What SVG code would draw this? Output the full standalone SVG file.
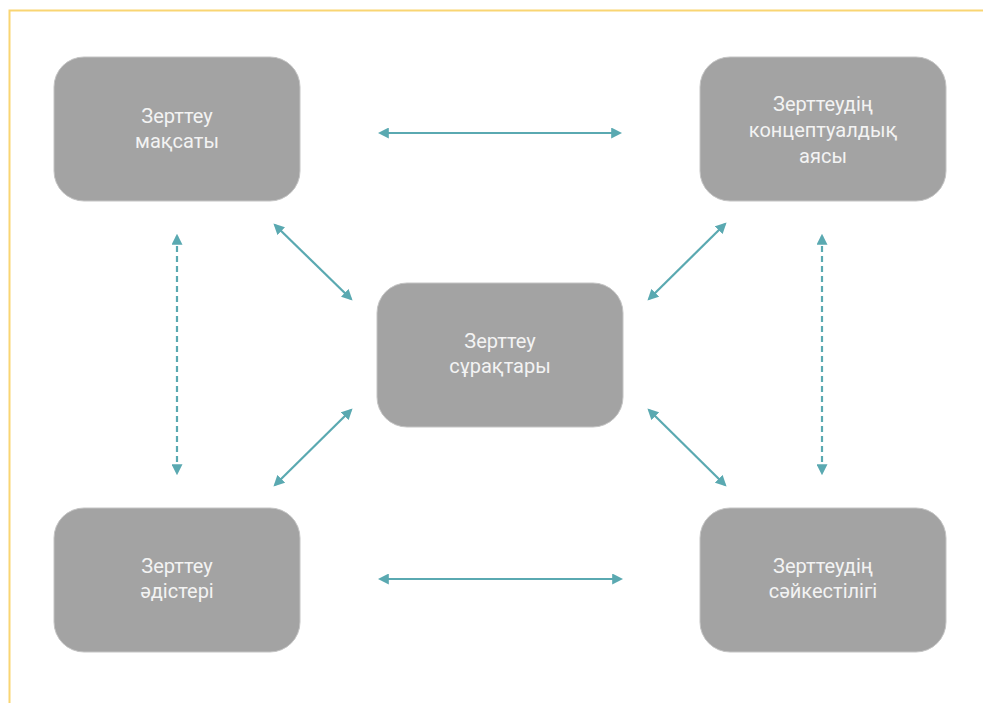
<svg xmlns="http://www.w3.org/2000/svg" width="983" height="703" viewBox="0 0 983 703">
  <style>
    .box { fill: #A3A3A3; stroke: #C4C4C4; stroke-width: 1; }
    .label { font-family: Roboto, "Liberation Sans", sans-serif; font-size: 20px; fill: #F3F3F3; text-anchor: middle; }
    .link { stroke: #5AA9B1; stroke-width: 2.2; fill: none; marker-start: url(#tip); marker-end: url(#tip); }
    .dash { stroke-dasharray: 6 4; }
  </style>
  <defs>
    <marker id="tip" viewBox="0 0 10 10" refX="8" refY="5" markerWidth="5" markerHeight="5" orient="auto-start-reverse" markerUnits="strokeWidth">
      <path d="M0,0 L10,5 L0,10 Z" fill="#5AA9B1"/>
    </marker>
  </defs>
  <rect width="983" height="703" fill="#FFFFFF"/>
  <!-- frame -->
  <path d="M9.5,703 V10.5 H983" fill="none" stroke="#F9D573" stroke-width="2"/>

  <g id="connectors">
    <line class="link" x1="380" y1="133" x2="620" y2="133"/>
    <line class="link" x1="380" y1="579" x2="621" y2="579"/>
    <line class="link dash" x1="177" y1="236" x2="177" y2="473"/>
    <line class="link dash" x1="822" y1="236" x2="822" y2="473"/>
    <line class="link" x1="275" y1="225" x2="351" y2="299"/>
    <line class="link" x1="725" y1="224" x2="649" y2="299"/>
    <line class="link" x1="351" y1="410" x2="275" y2="485"/>
    <line class="link" x1="649" y1="410" x2="725" y2="485"/>
  </g>

  <g id="goal">
    <rect class="box" x="54" y="57" width="246" height="144" rx="30"/>
    <text class="label" x="177" y="122.5">Зерттеу</text>
    <text class="label" x="177" y="147.5">мақсаты</text>
  </g>
  <g id="scope">
    <rect class="box" x="700" y="57" width="246" height="144" rx="30"/>
    <text class="label" x="823" y="111">Зерттеудің</text>
    <text class="label" x="823" y="137">концептуалдық</text>
    <text class="label" x="823" y="162.5">аясы</text>
  </g>
  <g id="questions">
    <rect class="box" x="377" y="283" width="246" height="144" rx="30"/>
    <text class="label" x="500" y="347.5">Зерттеу</text>
    <text class="label" x="500" y="372.5">сұрақтары</text>
  </g>
  <g id="methods">
    <rect class="box" x="54" y="508" width="246" height="144" rx="30"/>
    <text class="label" x="177" y="573">Зерттеу</text>
    <text class="label" x="177" y="598">әдістері</text>
  </g>
  <g id="relevance">
    <rect class="box" x="700" y="508" width="246" height="144" rx="30"/>
    <text class="label" x="823" y="572.5">Зерттеудің</text>
    <text class="label" x="823" y="597.5">сәйкестілігі</text>
  </g>
</svg>
